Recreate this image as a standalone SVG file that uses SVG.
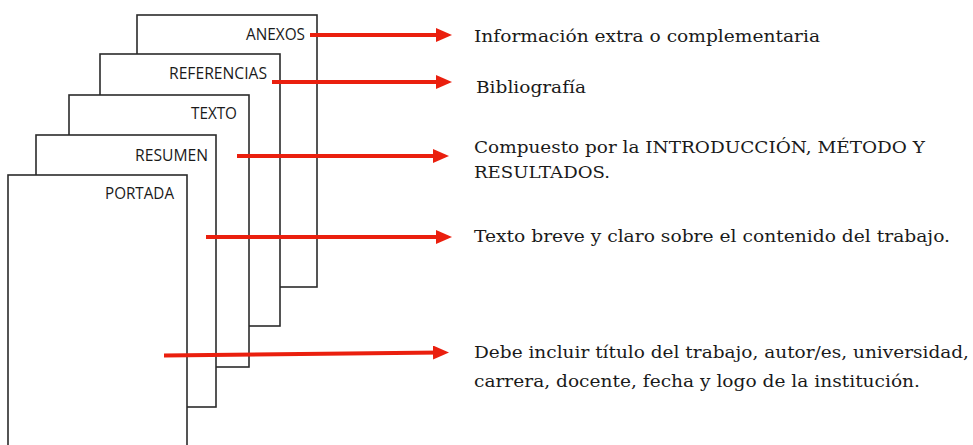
<svg xmlns="http://www.w3.org/2000/svg" width="973" height="445" viewBox="0 0 973 445">
<style>
.page{fill:#fff;stroke:#2b2b2b;stroke-width:1.6}
.lbl{font-family:"Open Sans","Liberation Sans",sans-serif;font-size:15.5px;fill:#1a1a1a;text-anchor:end}
.desc{font-family:"DejaVu Serif","Liberation Serif",serif;font-size:17.5px;fill:#1a1a1a}
.arr{stroke:#ea1f0e;stroke-width:4;fill:none;marker-end:url(#ah)}
</style>
<defs>
<marker id="ah" viewBox="0 0 16 14" refX="8" refY="7" markerWidth="16" markerHeight="14" markerUnits="userSpaceOnUse" orient="auto">
<path d="M0,0 L16,7 L0,14 z" fill="#ea1f0e"/>
</marker>
</defs>
<rect width="973" height="445" fill="#fff"/>
<g id="anexos"><rect class="page" x="137" y="15" width="180" height="272"/><text class="lbl" x="305" y="40" textLength="59" lengthAdjust="spacingAndGlyphs">ANEXOS</text></g>
<g id="referencias"><rect class="page" x="100" y="54" width="180" height="272"/><text class="lbl" x="267" y="79" textLength="98" lengthAdjust="spacingAndGlyphs">REFERENCIAS</text></g>
<g id="texto"><rect class="page" x="69" y="95" width="180" height="272"/><text class="lbl" x="237" y="119" textLength="46" lengthAdjust="spacingAndGlyphs">TEXTO</text></g>
<g id="resumen"><rect class="page" x="36" y="135" width="180" height="272"/><text class="lbl" x="208" y="161" textLength="73" lengthAdjust="spacingAndGlyphs">RESUMEN</text></g>
<g id="portada"><rect class="page" x="8" y="175" width="179" height="290"/><text class="lbl" x="174" y="199" textLength="69" lengthAdjust="spacingAndGlyphs">PORTADA</text></g>
<g id="connectors">
<line class="arr" x1="310" y1="35" x2="444" y2="35"/>
<line class="arr" x1="272" y1="82" x2="444" y2="82"/>
<line class="arr" x1="237" y1="156" x2="441" y2="156"/>
<line class="arr" x1="206" y1="237" x2="444" y2="237"/>
<line class="arr" x1="164" y1="355.5" x2="441" y2="352.5"/>
</g>
<g id="descriptions">
<text class="desc" x="474" y="42" textLength="346" lengthAdjust="spacingAndGlyphs">Información extra o complementaria</text>
<text class="desc" x="476" y="93" textLength="110" lengthAdjust="spacingAndGlyphs">Bibliografía</text>
<text class="desc" x="474" y="153" textLength="451" lengthAdjust="spacingAndGlyphs">Compuesto por la INTRODUCCIÓN, MÉTODO Y</text>
<text class="desc" x="474" y="178" textLength="136" lengthAdjust="spacingAndGlyphs">RESULTADOS.</text>
<text class="desc" x="474" y="242" textLength="476" lengthAdjust="spacingAndGlyphs">Texto breve y claro sobre el contenido del trabajo.</text>
<text class="desc" x="474" y="358" textLength="495" lengthAdjust="spacingAndGlyphs">Debe incluir título del trabajo, autor/es, universidad,</text>
<text class="desc" x="474" y="387" textLength="446" lengthAdjust="spacingAndGlyphs">carrera, docente, fecha y logo de la institución.</text>
</g>
</svg>
